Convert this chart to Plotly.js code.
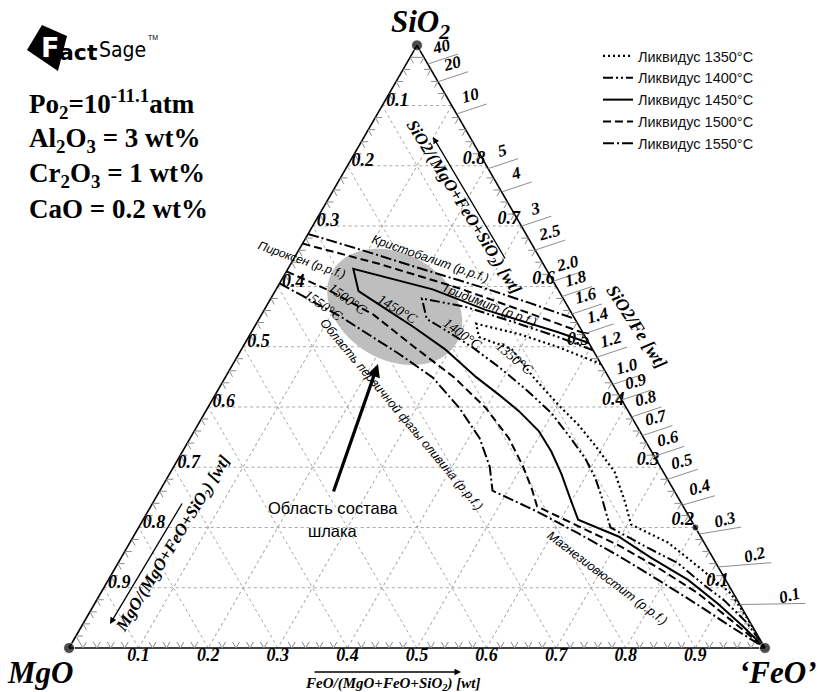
<!DOCTYPE html>
<html><head><meta charset="utf-8">
<script src="https://cdn.plot.ly/plotly-3.0.1.min.js"></script>
<style>html,body{margin:0;padding:0;background:#fff}#chart{width:818px;height:692px}</style>
</head><body><div id="chart"></div>
<script>
// ---------------- DATA (mass fractions; null separates branches) ----------------
const L1350_SiO2 = [0.471,0.499,0.521,0.538,0.516,0.496,0.449,0.403,0.370,0.336,0.292,0.242,0.205,0.175,0.136,0.091,0.054,0];
const L1350_FeO  = [0.529,0.454,0.386,0.316,0.331,0.388,0.443,0.502,0.547,0.588,0.638,0.678,0.705,0.773,0.835,0.905,0.945,1];

const L1400_SiO2 = [0.494,0.516,0.538,0.566,0.580,0.546,0.528,0.499,0.466,0.429,0.390,0.348,0.314,0.281,0.252,0.225,0.200,0.166,0.141,0.104,0.079,0.042,0];
const L1400_FeO  = [0.506,0.445,0.377,0.287,0.217,0.241,0.276,0.330,0.385,0.442,0.498,0.547,0.585,0.616,0.639,0.659,0.678,0.749,0.804,0.861,0.902,0.953,1];

const L1450_SiO2 = [0.506,0.524,0.561,0.595,0.629,0.592,0.563,0.533,0.496,0.449,0.420,0.393,0.360,0.326,0.289,0.247,0.213,0.185,0.150,0.113,0.074,0.037,0];
const L1450_FeO  = [0.494,0.441,0.318,0.225,0.094,0.120,0.173,0.228,0.292,0.361,0.408,0.450,0.495,0.530,0.563,0.597,0.625,0.697,0.761,0.833,0.895,0.949,1];

const L1500_SiO2 = [0.671,0.637,0.597,0.556,0.523,null,0.625,0.592,0.553,0.499,0.449,0.398,0.348,0.301,0.264,0.235,0.202,0.171,0.133,0.091,0.045,0];
const L1500_FeO  = [0,0.128,0.262,0.382,0.477,null,0,0.080,0.161,0.247,0.329,0.400,0.458,0.502,0.533,0.555,0.631,0.703,0.780,0.858,0.930,1];

const L1550_SiO2 = [0.687,0.661,0.630,0.600,0.573,0.546,null,0.605,0.550,0.487,0.449,0.398,0.348,0.301,0.261,0.227,0.190,0.153,0.113,0.072,0.034,0];
const L1550_FeO  = [0,0.088,0.189,0.289,0.374,0.454,null,0,0.115,0.232,0.298,0.362,0.416,0.454,0.478,0.558,0.637,0.713,0.790,0.867,0.936,1];

const LIQ_NAMES = ['Ликвидус 1350°C','Ликвидус 1400°C','Ликвидус 1450°C','Ликвидус 1500°C','Ликвидус 1550°C'];

// slag composition region (ellipse) : centre composition, semi-axes (fraction of side), tilt
const SLAG_CENTER_SIO2 = 0.566, SLAG_CENTER_FEO = 0.185;
const SLAG_AXES = [0.103, 0.076];
const SLAG_TILT_DEG = 30;

// axis ticks
const EDGE_TICKS = [0.1,0.2,0.3,0.4,0.5,0.6,0.7,0.8,0.9];
const EDGE_TICK_TEXT = ['0.1','0.2','0.3','0.4','0.5','0.6','0.7','0.8','0.9'];
const SIO2_EDGE_TICKS = [0.1,0.2,0.3,0.4,0.5,0.6,0.7,0.8];
const SIO2_EDGE_TEXT = ['0.1','0.2','0.3','0.4','0.5','0.6','0.7','0.8'];
const RATIO_TICKS = [40,20,10,5,4,3,2.5,2.0,1.8,1.6,1.4,1.2,1.0,0.9,0.8,0.7,0.6,0.5,0.4,0.3,0.2,0.1];
const RATIO_TEXT  = ['40','20','10','5','4','3','2.5','2.0','1.8','1.6','1.4','1.2','1.0','0.9','0.8','0.7','0.6','0.5','0.4','0.3','0.2','0.1'];
const FE_PER_FEO = 55.845/71.844;
const MARKED_SIO2 = 0.2; // dot on the SiO2-'FeO' edge

// ---------------- BUILD ----------------
const W=818, H=692;
const SERIF='Liberation Serif, Times New Roman, serif';
const SANS='Liberation Sans, Arial, sans-serif';
const mg = (s,f)=> s.map((v,i)=> v===null ? null : +(1 - v - f[i]).toFixed(4));

// ternary placement (paper pixels) used by plotly domain below
const TRI = {left:69, right:765, bottom:648, top:45.3};
const DOM = {x:[TRI.left/W, TRI.right/W], y:[(H-TRI.bottom)/H, (H-TRI.top)/H]};
const triW = Math.min(TRI.right-TRI.left, (TRI.bottom-TRI.top)*2/Math.sqrt(3));
const triH = triW*Math.sqrt(3)/2;
const triX0 = (TRI.left+TRI.right)/2 - triW/2, triYb = (TRI.bottom+TRI.top)/2 + triH/2;
function t2p(a,c){ return [triX0 + triW*(c + a/2), triYb - a*triH]; }

const traces = [];

// slag ellipse
(function(){
  const a=[],b=[],c=[]; const r3=Math.sqrt(3)/2;
  const X0 = SLAG_CENTER_FEO + SLAG_CENTER_SIO2/2, Y0 = SLAG_CENTER_SIO2*r3;
  const th = SLAG_TILT_DEG*Math.PI/180;
  for(let i=0;i<=72;i++){
    const t=2*Math.PI*i/72, u=SLAG_AXES[0]*Math.cos(t), v=SLAG_AXES[1]*Math.sin(t);
    const X = X0 + u*Math.cos(th) + v*Math.sin(th);
    const Y = Y0 - u*Math.sin(th) + v*Math.cos(th);
    const aa = Y/r3, cc = X - aa/2;
    a.push(aa); c.push(cc); b.push(1-aa-cc);
  }
  traces.push({type:'scatterternary',mode:'lines',a:a,b:b,c:c,fill:'toself',fillcolor:'#bebebe',
    line:{width:0,color:'#bebebe'},showlegend:false,hoverinfo:'skip'});
})();

// minor ticks on the three edges
(function(){
  const a=[],b=[],c=[]; const d=0.01;
  const p=(x,y,z)=>{a.push(x);b.push(y);c.push(z);};
  for(let k=1;k<50;k++){
    if(k%5===0) continue;
    const v=k/50;
    p(d,1-v-d,v); p(0,1-v,v); p(d,1-v,v-d); p(null,null,null);
    p(1-v,v-d,d); p(1-v,v,0); p(1-v-d,v,d); p(null,null,null);
    p(v,d,1-v-d); p(v,0,1-v); p(v-d,d,1-v); p(null,null,null);
  }
  traces.push({type:'scatterternary',mode:'lines',a:a,b:b,c:c,connectgaps:false,
    line:{width:1,color:'#8a8a8a'},showlegend:false,hoverinfo:'skip'});
})();

// liquidus curves
const curves = [
  [L1350_SiO2,L1350_FeO,'2px,3px',2.2],
  [L1400_SiO2,L1400_FeO,'10px,3px,2px,3px,2px,3px',2],
  [L1450_SiO2,L1450_FeO,'solid',2],
  [L1500_SiO2,L1500_FeO,'8px,4px',2],
  [L1550_SiO2,L1550_FeO,'11px,3px,2px,3px',2]
];
curves.forEach((cv,i)=>{
  traces.push({type:'scatterternary',mode:'lines',name:LIQ_NAMES[i],
    a:cv[0],c:cv[1],b:mg(cv[0],cv[1]),connectgaps:false,
    line:{color:'#000',width:cv[3],dash:cv[2]},hoverinfo:'skip'});
});

// edge tick labels (anchors nudged slightly inside the triangle)
const tickFont = {family:SERIF,size:18,color:'#000',weight:'bold',style:'italic'};
traces.push({type:'scatterternary',mode:'text',showlegend:false,cliponaxis:false,hoverinfo:'skip',
  a:EDGE_TICKS.map(m=>1-m-0.008),b:EDGE_TICKS.map(m=>m-0.002),c:EDGE_TICKS.map(()=>0.01),
  text:EDGE_TICK_TEXT,textposition:'top right',textfont:tickFont});
traces.push({type:'scatterternary',mode:'text',showlegend:false,cliponaxis:false,hoverinfo:'skip',
  a:EDGE_TICKS.map(()=>0),b:EDGE_TICKS.map(f=>1-f),c:EDGE_TICKS.slice(),
  text:EDGE_TICK_TEXT,textposition:'bottom center',textfont:tickFont});
traces.push({type:'scatterternary',mode:'text',showlegend:false,cliponaxis:false,hoverinfo:'skip',
  a:SIO2_EDGE_TICKS.map(s=>s-0.004),b:SIO2_EDGE_TICKS.map(()=>0.004),c:SIO2_EDGE_TICKS.map(s=>1-s),
  text:SIO2_EDGE_TEXT,textposition:'top left',textfont:tickFont});
// vertices + marked point
traces.push({type:'scatterternary',mode:'markers',showlegend:false,cliponaxis:false,hoverinfo:'skip',
  a:[1,0,0,MARKED_SIO2],b:[0,1,0,0],c:[0,0,1,1-MARKED_SIO2],
  marker:{color:'#000',size:[11,11,11,7]}});

// ---------------- LAYOUT ----------------
const axis = ()=>({tickmode:'linear',tick0:0,dtick:0.1,min:0,showticklabels:false,ticks:'',
  showline:true,linecolor:'#000',linewidth:1.6,showgrid:true,gridcolor:'#a8a8a8',gridwidth:1,
  griddash:'dot',layer:'below traces',title:{text:''}});

function ann(px,py,text,opt){
  return Object.assign({xref:'paper',yref:'paper',x:px/W,y:1-py/H,text:text,showarrow:false,
    xanchor:'center',yanchor:'middle'},opt||{});
}
function arrow(hx,hy,tx,ty,w,hs){
  return {xref:'paper',yref:'paper',x:hx/W,y:1-hy/H,ax:tx-hx,ay:ty-hy,text:'',showarrow:true,
    arrowhead:2,arrowsize:hs||1,arrowwidth:w||1.3,arrowcolor:'#000'};
}
const fSerif = (s)=>({family:SERIF,size:s,color:'#000'});
const annotations = [
  ann(421,24,'<b><i>SiO<sub>2</sub></i></b>',{font:fSerif(31)}),
  ann(40,672,'<b><i>MgO</i></b>',{font:fSerif(31)}),
  ann(777,672,'<b><i>‘FeO’</i></b>',{font:fSerif(31)}),
  ann(27,104,'<b>Po<sub>2</sub>=10<sup>-11.1</sup>atm</b>',{xanchor:'left',font:fSerif(27)}),
  ann(27,140,'<b>Al<sub>2</sub>O<sub>3</sub> = 3 wt%</b>',{xanchor:'left',font:fSerif(27)}),
  ann(27,175,'<b>Cr<sub>2</sub>O<sub>3</sub> = 1 wt%</b>',{xanchor:'left',font:fSerif(27)}),
  ann(27,209,'<b>CaO = 0.2 wt%</b>',{xanchor:'left',font:fSerif(27)}),
  ann(50,48,'<b>F</b>',{font:{family:'DejaVu Sans, sans-serif',size:27,color:'#fff'}}),
  ann(57,52,'<b>act</b>',{xanchor:'left',font:{family:'DejaVu Sans, sans-serif',size:22,color:'#000'}}),
  ann(97,50,'Sage',{xanchor:'left',font:{family:'DejaVu Sans Condensed, Liberation Sans Narrow, sans-serif',size:21,color:'#000'}}),
  ann(146,38,'TM',{xanchor:'left',font:{family:SANS,size:7,color:'#000'}}),
  ann(392,684,'<b><i>FeO/(MgO+FeO+SiO<sub>2</sub>) [wt]</i></b>',{font:fSerif(15)}),
  arrow(461,672,313,672,1.3,1),
  ann(174,544,'<b><i>MgO/(MgO+FeO+SiO<sub>2</sub>) [wt]</i></b>',{textangle:-58.5,font:fSerif(17)}),
  arrow(110,624,183,502,1.3,1),
  ann(463,208,'<b><i>SiO2/(MgO+FeO+SiO<sub>2</sub>) [wt]</i></b>',{textangle:58,font:fSerif(17)}),
  arrow(433,137,506,260,1.3,1),
  ann(637,327,'<b><i>SiO2/Fe [wt]</i></b>',{textangle:57,font:fSerif(18)}),
  ann(431,259,'<i>Кристобалит (p.p.f.)</i>',{textangle:19,font:{family:SANS,size:12.5,color:'#000'}}),
  ann(489,305,'<i>Тридимит (p.p.f.)</i>',{textangle:21,font:{family:SANS,size:12.5,color:'#000'}}),
  ann(302,260,'<i>Пироксен (p.p.f.)</i>',{textangle:19,font:{family:SANS,size:12,color:'#000'}}),
  ann(401,414,'<i>Область первичной фазы оливина (p.p.f.)</i>',{textangle:50,font:{family:SANS,size:12.5,color:'#000'}}),
  ann(607,578,'<i>Магнезиовюстит (p.p.f.)</i>',{textangle:37,font:{family:SANS,size:12.5,color:'#000'}}),
  ann(323,306,'<i>1550°C</i>',{textangle:35,font:fSerif(14)}),
  ann(348,299,'<i>1500°C</i>',{textangle:36,font:fSerif(14)}),
  ann(398,309,'<i>1450°C</i>',{textangle:31,font:fSerif(14)}),
  ann(463,334,'<i>1400°C</i>',{textangle:36,font:fSerif(14)}),
  ann(515,358,'<i>1350°C</i>',{textangle:40,font:fSerif(14)}),
  ann(333,508,'Область состава',{font:{family:SANS,size:16.5,color:'#000'}}),
  ann(333,531,'шлака',{font:{family:SANS,size:16.5,color:'#000'}}),
  arrow(378,364,333,493,3.2,0.8)
];

const shapes = [];
const logoPts = [[27,50],[42,25],[67,36],[58,71]];
shapes.push({type:'path',xref:'paper',yref:'paper',fillcolor:'#000',line:{width:0},
  path:'M' + logoPts.map(p=>(p[0]/W).toFixed(4)+','+(1-p[1]/H).toFixed(4)).join(' L') + ' Z'});

// SiO2/Fe secondary scale: tick lines + labels placed from the ternary geometry
RATIO_TICKS.forEach((r,i)=>{
  const s = FE_PER_FEO*r/(1+FE_PER_FEO*r);
  const P = t2p(s,1-s);
  const extra = Math.max(0,0.25-s)*200;
  const dx = 14+extra, dy = -18+extra*0.25;
  shapes.push({type:'line',xref:'paper',yref:'paper',x0:P[0]/W,y0:1-P[1]/H,
    x1:(P[0]+dx+16)/W,y1:1-(P[1]+dy+8)/H,line:{color:'#8c8c8c',width:1}});
  annotations.push(ann(P[0]+dx,P[1]+dy,'<b><i>'+RATIO_TEXT[i]+'</i></b>',{textangle:-15,font:fSerif(17)}));
});

const layout = {
  width:W,height:H,margin:{l:0,r:0,t:0,b:0},paper_bgcolor:'#fff',
  showlegend:true,hovermode:false,
  legend:{x:598/W,y:1-40/H,xanchor:'left',yanchor:'top',bgcolor:'rgba(0,0,0,0)',
    font:{family:SANS,size:14.5,color:'#111'}},
  ternary:{sum:1,domain:DOM,bgcolor:'rgba(0,0,0,0)',aaxis:axis(),baxis:axis(),caxis:axis()},
  shapes:shapes,
  annotations:annotations
};

Plotly.newPlot('chart',traces,layout,{staticPlot:true,displayModeBar:false});
</script></body></html>
